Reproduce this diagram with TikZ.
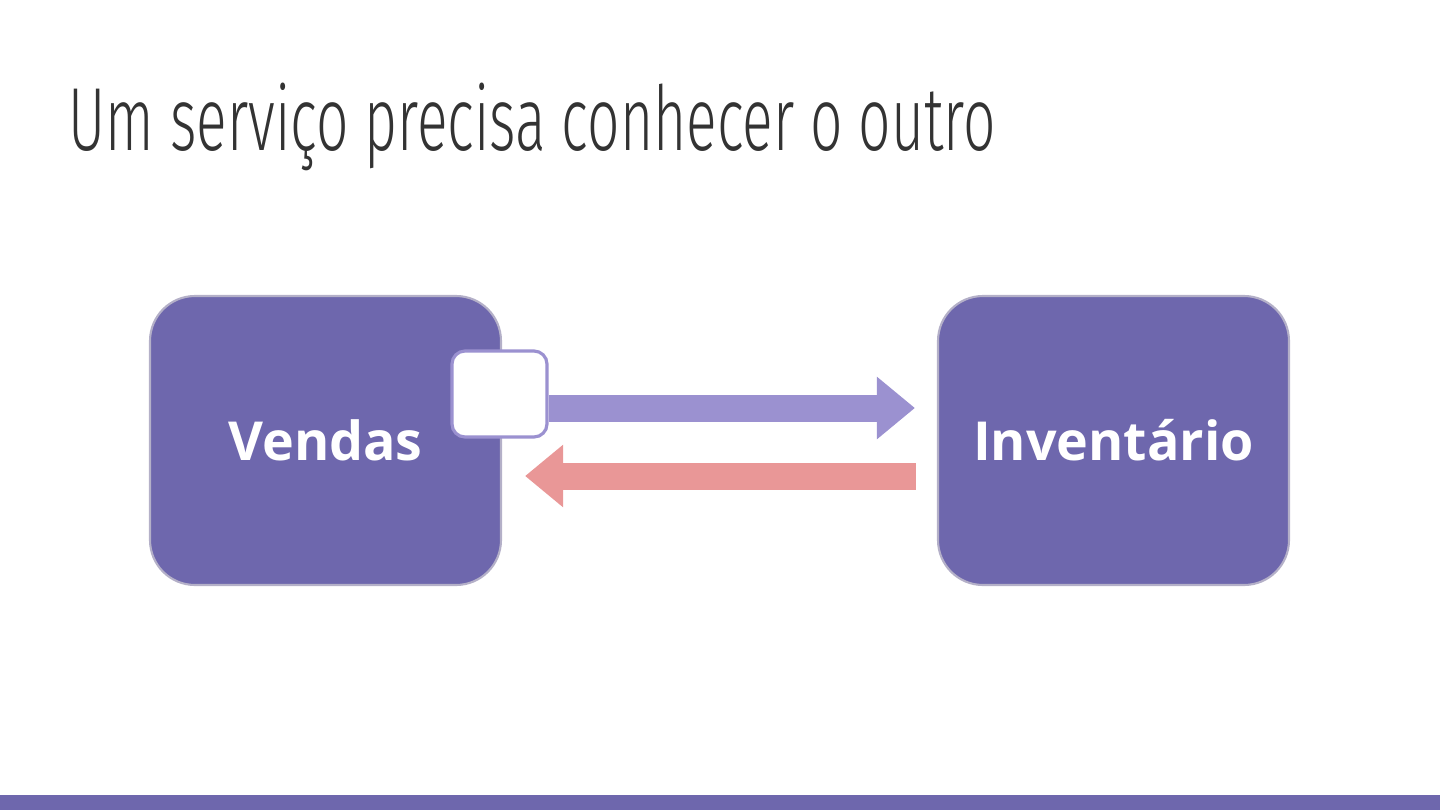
\documentclass[tikz,border=0pt]{standalone}
\usepackage{fontspec}
\setmainfont{Open Sans}
\newfontfamily\titlefont[FakeStretch=0.635]{Fira Sans Light}
\usetikzlibrary{arrows.meta,positioning}
\definecolor{boxPurple}{HTML}{6E67AD}
\definecolor{boxEdge}{HTML}{B4B0C8}
\definecolor{linkPurple}{HTML}{9B91D0}
\definecolor{linkRed}{HTML}{E99797}
\definecolor{titleGray}{HTML}{333333}
\tikzset{
  service/.style={rectangle, rounded corners=0.45cm, draw=boxEdge, line width=0.6pt, fill=boxPurple, text=white, font=\bfseries\fontsize{15.3}{18}\selectfont, minimum width=3.51cm, minimum height=2.89cm},
  client/.style={rectangle, rounded corners=0.13cm, draw=linkPurple, line width=0.9pt, fill=white, minimum width=0.95cm, minimum height=0.86cm},
  bigArrow/.style={line width=0.27cm, -{Triangle[length=0.38cm, width=0.60cm]}}
}
\begin{document}
\begin{tikzpicture}

% Page frame and footer bar
\useasboundingbox (0,0) rectangle (14.4,8.1);
\fill[boxPurple] (0,0) rectangle (14.4,0.15);

% Title
\node[anchor=base west, inner sep=0pt, text=titleGray, font=\titlefont\fontsize{25.5}{30}\selectfont] (title) at (0.68,6.60) {Um serviço precisa conhecer o outro};

% Services
\node[service] (vendas) at (3.255,3.695) {Vendas};
\node[service] (inventario) at (11.135,3.695) {Inventário};
\node[client] (cliente) at (4.995,4.16) {};

% Calls between the services
\draw[bigArrow, linkPurple, shorten >=0.22cm] ([yshift=-0.14cm]cliente.east) -- ([yshift=-0.14cm]cliente.east -| inventario.west);
\draw[bigArrow, linkRed, shorten <=0.21cm, shorten >=0.23cm] ([yshift=-0.355cm]inventario.west) -- ([yshift=-0.355cm]inventario.west -| vendas.east);

\end{tikzpicture}
\end{document}
